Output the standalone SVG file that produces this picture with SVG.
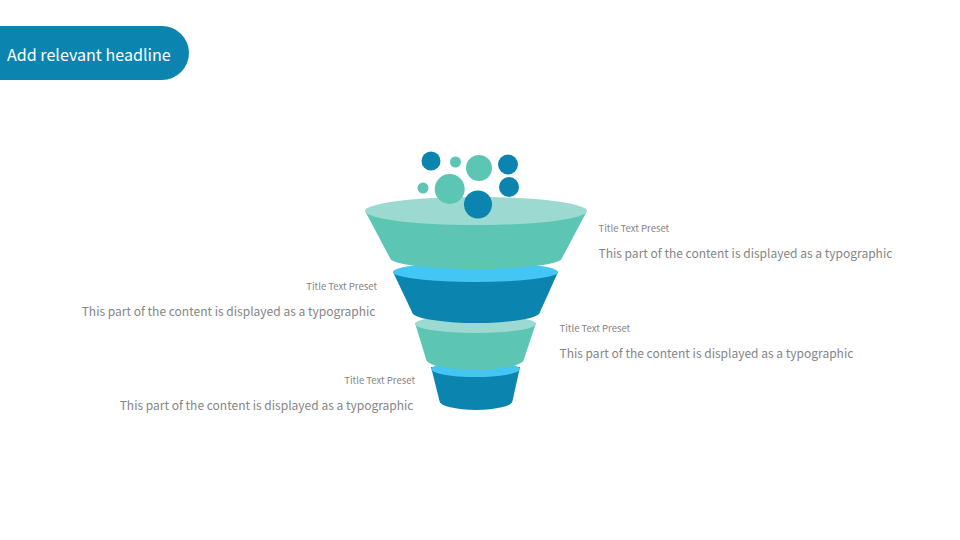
<svg xmlns="http://www.w3.org/2000/svg" width="960" height="540" viewBox="0 0 960 540">
<style>
text{font-family:"Noto Sans CJK SC","Noto Sans",sans-serif;fill:#858585}
.t{font-size:9.550px}
.b{font-size:12.030px}
.blue{fill:#0b85b0}
.teal{fill:#5cc5b3}
.pale{fill:#9cdad1}
.sky{fill:#44c6f4}
</style>
<rect width="960" height="540" fill="#fff"/>
<g id="header">
<path d="M0 26H162A27 27 0 0 1 162 80H0Z" class="blue"/>
<text x="7" y="61" style="font-size:16.100px;fill:#fff">Add relevant headline</text>
</g>
<g id="tier4">
<path d="M431 367L439.500 401A36.500 9 0 0 0 512.500 401L520 367Z" class="blue"/>
<ellipse cx="475.500" cy="369" rx="44.500" ry="8" class="sky"/>
</g>
<g id="tier3">
<path d="M415 323L426 359A49 11 0 0 0 524 359L536 323Z" class="teal"/>
<ellipse cx="475.500" cy="324" rx="60.500" ry="9" class="pale"/>
</g>
<g id="tier2">
<path d="M393 272L412 312A64 11 0 0 0 540 312L558 272Z" class="blue"/>
<ellipse cx="475.500" cy="272" rx="82.500" ry="10" class="sky"/>
</g>
<g id="tier1">
<path d="M365 211L390 258A86 11 0 0 0 562 258L587 211Z" class="teal"/>
<ellipse cx="476" cy="211" rx="111" ry="14" class="pale"/>
</g>
<g id="bubbles">
<circle cx="431" cy="161" r="9.500" class="blue"/>
<circle cx="455.500" cy="162" r="5.500" class="teal"/>
<circle cx="479" cy="168" r="13" class="teal"/>
<circle cx="508" cy="164.500" r="10" class="blue"/>
<circle cx="509" cy="187" r="10" class="blue"/>
<circle cx="423" cy="188" r="5.500" class="teal"/>
<circle cx="449.700" cy="189" r="15" class="teal"/>
<circle cx="478" cy="204.500" r="14" class="blue"/>
</g>
<g id="label1">
<text x="598.500" y="232" class="t">Title Text Preset</text>
<text x="598.500" y="258" class="b">This part of the content is displayed as a typographic</text>
</g>
<g id="label2">
<text x="377" y="290" class="t" text-anchor="end">Title Text Preset</text>
<text x="375.500" y="315.500" class="b" text-anchor="end">This part of the content is displayed as a typographic</text>
</g>
<g id="label3">
<text x="559.500" y="332" class="t">Title Text Preset</text>
<text x="559.500" y="358" class="b">This part of the content is displayed as a typographic</text>
</g>
<g id="label4">
<text x="415" y="384" class="t" text-anchor="end">Title Text Preset</text>
<text x="413.500" y="410" class="b" text-anchor="end">This part of the content is displayed as a typographic</text>
</g>
</svg>
